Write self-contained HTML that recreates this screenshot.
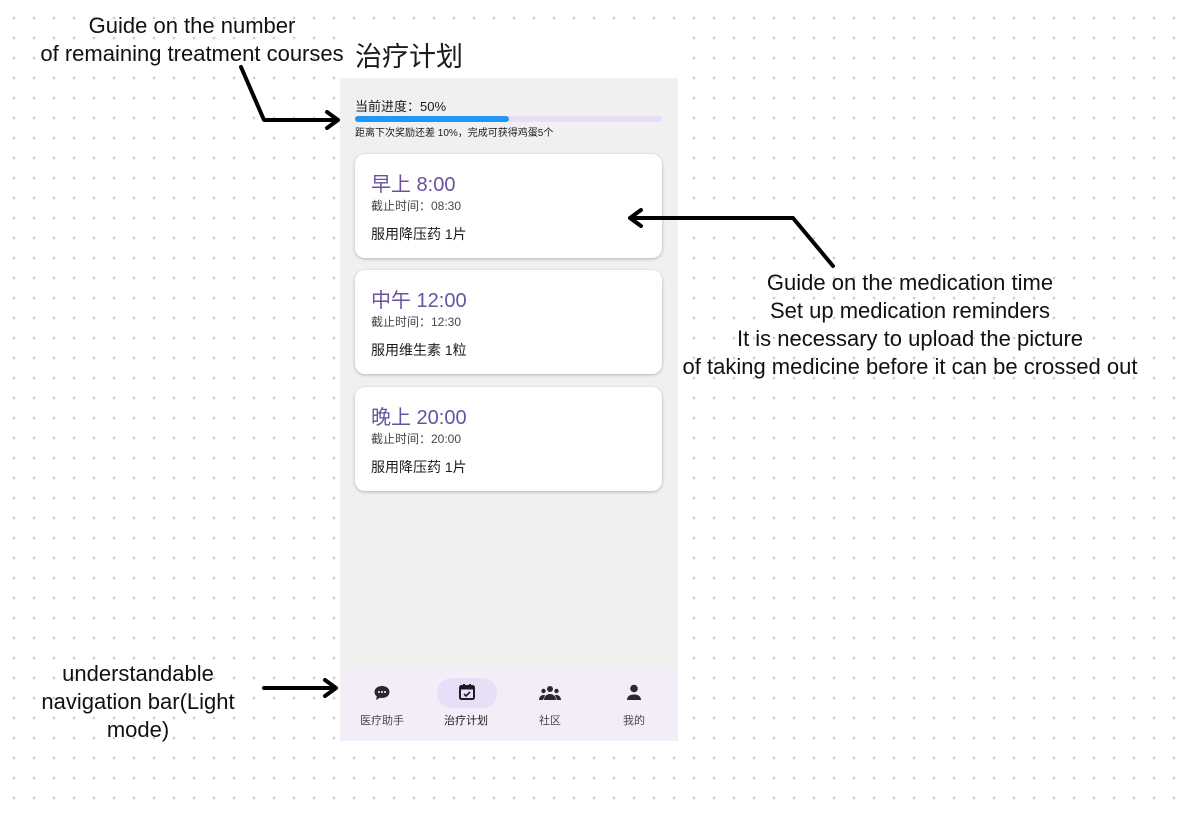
<!DOCTYPE html>
<html><head><meta charset="utf-8"><style>
*{margin:0;padding:0;box-sizing:border-box}
body{width:1184px;height:816px;position:relative;overflow:hidden;background:#fff;
background-image:radial-gradient(circle,#c9ccd3 1.1px,transparent 1.6px);background-size:20px 20px;background-position:4px 8px;
font-family:"Liberation Sans","Noto Sans CJK SC",sans-serif;color:#000}
.ann{position:absolute;z-index:2;font-size:22px;line-height:28px;text-align:center;color:#111;white-space:nowrap}
.phone{position:absolute;left:340px;top:26px;width:338px;height:715px;background:#f0f0f0}
.hdr{position:absolute;left:0;top:0;width:338px;height:52px;background:#fff}
.hdr span{position:absolute;left:15px;top:9px;font-size:27px;color:#1d1b20}
.card{position:absolute;left:15px;width:307px;height:104px;background:#fff;border-radius:10px;box-shadow:0 1px 3px rgba(0,0,0,.25)}
.card .t{position:absolute;left:16px;top:14px;font-size:20px;color:#6a52a0}
.card .d{position:absolute;left:16px;top:43px;font-size:12px;color:#49454f}
.card .m{position:absolute;left:16px;top:70px;font-size:14px;color:#1d1b20}
.nav{position:absolute;left:0;top:641px;width:338px;height:74px;background:#f3edf7}
.tab{position:absolute;top:0;width:84px;text-align:center}
.tab .l{position:absolute;top:45px;width:84px;font-size:11px;color:#49454f}
</style></head><body>

<div class="phone">
 <div class="hdr"><span>治疗计划</span></div>
 <div style="position:absolute;left:15px;top:70px;font-size:13px;color:#1d1b20">当前进度：50%</div>
 <div style="position:absolute;left:15px;top:90px;width:307px;height:6px;background:#e8def8;border-radius:3px"><div style="width:154px;height:6px;background:#2196f3;border-radius:3px"></div></div>
 <div style="position:absolute;left:15px;top:98px;font-size:10px;color:#1d1b20">距离下次奖励还差 10%，完成可获得鸡蛋5个</div>
 <div class="card" style="top:128px"><div class="t">早上 8:00</div><div class="d">截止时间：08:30</div><div class="m">服用降压药 1片</div></div>
 <div class="card" style="top:244px"><div class="t">中午 12:00</div><div class="d">截止时间：12:30</div><div class="m">服用维生素 1粒</div></div>
 <div class="card" style="top:361px"><div class="t">晚上 20:00</div><div class="d">截止时间：20:00</div><div class="m">服用降压药 1片</div></div>
 <div class="nav">
  <div class="tab" style="left:0"><svg style="position:absolute;left:33px;top:17px" width="18" height="18" viewBox="0 0 18 18"><path d="M9 2C4.5 2 1.5 4.7 1.5 8c0 1.8.9 3.3 2.3 4.4L3 16l4-2.2c.6.1 1.3.2 2 .2 4.5 0 7.5-2.7 7.5-6S13.5 2 9 2z" fill="#2b2930"/><circle cx="6" cy="8" r="1" fill="#fff"/><circle cx="9" cy="8" r="1" fill="#fff"/><circle cx="12" cy="8" r="1" fill="#fff"/></svg><div class="l">医疗助手</div></div>
  <div class="tab" style="left:84px"><div style="position:absolute;left:13px;top:11px;width:60px;height:30px;border-radius:15px;background:#e8def8"></div><svg style="position:absolute;left:34px;top:16px" width="18" height="18" viewBox="0 0 18 18"><rect x="2" y="3" width="14" height="13" rx="1.5" fill="none" stroke="#1d1b20" stroke-width="2"/><rect x="2" y="3" width="14" height="3.5" fill="#1d1b20"/><rect x="5" y="1" width="2" height="3" fill="#1d1b20"/><rect x="11" y="1" width="2" height="3" fill="#1d1b20"/><path d="M6 11l2 2 4-4" fill="none" stroke="#1d1b20" stroke-width="1.6"/></svg><div class="l" style="color:#1d1b20">治疗计划</div></div>
  <div class="tab" style="left:168px"><svg style="position:absolute;left:31px;top:18px" width="22" height="16" viewBox="0 0 22 16"><circle cx="11" cy="4" r="3" fill="#2b2930"/><circle cx="4.5" cy="6" r="2.2" fill="#2b2930"/><circle cx="17.5" cy="6" r="2.2" fill="#2b2930"/><path d="M5 15c0-4 3-6 6-6s6 2 6 6z" fill="#2b2930"/><path d="M0 15c0-3 2-5 4.5-5 1 0 1.5.2 1.5.2L4 15z" fill="#2b2930"/><path d="M22 15c0-3-2-5-4.5-5-1 0-1.5.2-1.5.2L18 15z" fill="#2b2930"/></svg><div class="l">社区</div></div>
  <div class="tab" style="left:252px"><svg style="position:absolute;left:34px;top:17px" width="16" height="17" viewBox="0 0 16 17"><circle cx="8" cy="4.5" r="3.8" fill="#2b2930"/><path d="M1 16c0-4 3.5-5.5 7-5.5s7 1.5 7 5.5z" fill="#2b2930"/></svg><div class="l">我的</div></div>
 </div>
</div>

<div class="ann" style="left:0px;top:12px;width:384px">Guide on the number<br>of remaining treatment courses</div>
<div class="ann" style="left:660px;top:269px;width:500px">Guide on the medication time<br>Set up medication reminders<br>It is necessary to upload the picture<br>of taking medicine before it can be crossed out</div>
<div class="ann" style="left:28px;top:660px;width:220px">understandable<br>navigation bar(Light<br>mode)</div>

<svg style="position:absolute;left:0;top:0" width="1184" height="816">
 <g fill="none" stroke="#000" stroke-width="4" stroke-linecap="round" stroke-linejoin="round">
  <path d="M241 67L264 120H338M327 112L338 120L327 128"/>
  <path d="M833 266L793 218H630M641 210L630 218L641 226"/>
  <path d="M264 688H336M325 680L336 688L325 696"/>
 </g>
</svg>
</body></html>
